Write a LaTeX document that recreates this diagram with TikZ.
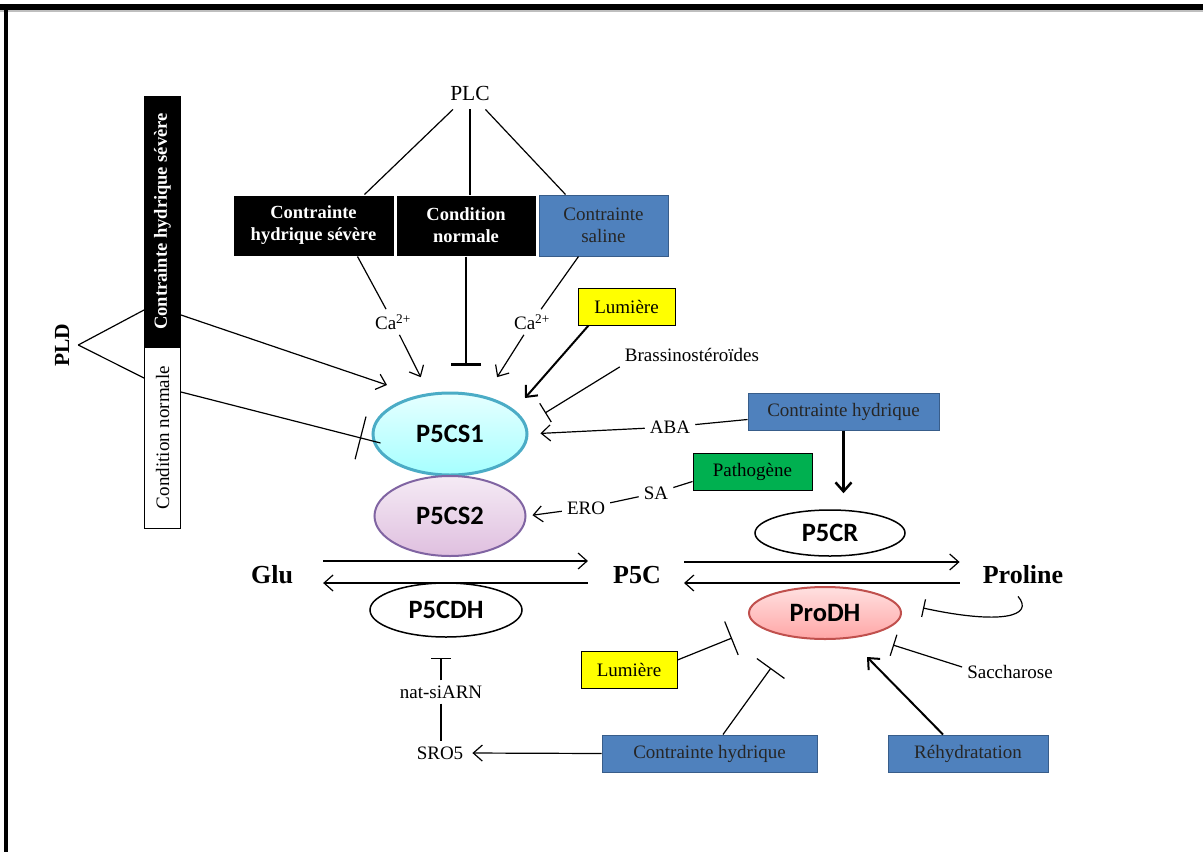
\documentclass[tikz,border=0pt]{standalone}
\usepackage{fontspec}
\setmainfont{Liberation Serif}
\newfontfamily\calib{Carlito}
\usetikzlibrary{shapes.geometric,arrows.meta,calc,decorations.markings}

\definecolor{bleu}{RGB}{79,129,189}
\definecolor{bleufonce}{RGB}{56,93,138}
\definecolor{vert}{RGB}{0,176,80}
\definecolor{jaune}{RGB}{255,255,0}
\definecolor{cyanbord}{RGB}{75,172,198}
\definecolor{violetbord}{RGB}{128,100,162}
\definecolor{rougebord}{RGB}{192,80,77}

\begin{document}
\begin{tikzpicture}[x=1pt,y=-1pt,
    txt/.style={font=\fontsize{19}{22}\selectfont, inner sep=5pt},
    big/.style={font=\fontsize{26}{28}\selectfont\bfseries, inner sep=0pt},
    box/.style={draw, line width=1pt, minimum height=37pt, inner sep=0pt, align=center,
        font=\fontsize{19}{22}\selectfont},
    blk/.style={box, fill=black, draw=white, text=white, font=\fontsize{18.5}{22}\selectfont\bfseries},
    bluebox/.style={box, fill=bleu, draw=bleufonce, text=black!85},
    enz/.style={ellipse, draw, line width=1.5pt, inner sep=0pt, font=\calib\bfseries\fontsize{26.5}{28}\selectfont},
    lnk/.style={line width=1.2pt},
    act/.style={lnk, -{Straight Barb[length=9pt,width=16pt]}},
    inh/.style={lnk, -{Bar[width=22pt]}}]

    \useasboundingbox (0,0) rectangle (1203,852);

    % Cadre
    \fill (0,4) rectangle (1203,10);
    \fill[gray!50] (0,10) rectangle (1203,12);
    \fill (4,4) rectangle (8,852);

    % Conditions en haut
    \node[txt, font=\fontsize{21.5}{24}\selectfont, inner sep=9pt] (plc) at (470,93) {PLC};
    \node[blk, minimum width=161pt, minimum height=61pt] (csev) at (313.5,225.5) {Contrainte\\hydrique sévère};
    \node[blk, minimum width=140pt, minimum height=61pt] (cnor) at (466,225.5) {Condition\\normale};
    \node[bluebox, minimum width=129pt, minimum height=61pt] (csal) at (603.5,225.5) {Contrainte\\saline};

    % Barre verticale PLD
    \node[blk, draw=black, rotate=90, minimum width=251pt, minimum height=36pt] (bsev) at (162.5,221.5) {Contrainte hydrique sévère};
    \node[box, rotate=90, minimum width=181pt, minimum height=36pt] (bnor) at (162.5,437.5) {Condition normale};
    \node[txt, font=\fontsize{21.5}{24}\selectfont\bfseries, rotate=90, inner sep=9pt] (pld) at (62,345) {PLD};

    % Enzymes
    \node[enz, draw=cyanbord, line width=3pt, top color=cyan!10, bottom color=cyan!35,
        minimum width=154pt, minimum height=82pt] (cs1) at (450,434) {P5CS1};
    \node[enz, draw=violetbord, line width=2pt, top color=violet!8, bottom color=violet!25,
        minimum width=151pt, minimum height=80pt] (cs2) at (450,516) {P5CS2};
    \node[enz, fill=white, minimum width=152pt, minimum height=54pt] (p5cdh) at (446,610) {P5CDH};
    \node[enz, fill=white, minimum width=150pt, minimum height=46pt] (p5cr) at (830,533) {P5CR};
    \node[enz, draw=rougebord, line width=2pt, top color=red!12, bottom color=red!35,
        minimum width=152pt, minimum height=52pt] (prodh) at (825,613) {ProDH};

    % Metabolites
    \node[big] (glu) at (272,575) {Glu};
    \node[big] (p5c) at (637,575) {P5C};
    \node[big] (pro) at (1023,575) {Proline};

    % Regulateurs
    \node[txt] (ca1) at (393,322) {Ca\textsuperscript{2+}};
    \node[txt] (ca2) at (532,322) {Ca\textsuperscript{2+}};
    \node[box, fill=jaune, minimum width=97pt] (lum1) at (626.5,306.5) {Lumière};
    \node[txt] (bras) at (692,355) {Brassinostéroïdes};
    \node[bluebox, minimum width=191pt] (ch1) at (843.5,411.5) {Contrainte hydrique};
    \node[txt] (aba) at (670,427) {ABA};
    \node[box, fill=vert, minimum width=119pt] (patho) at (752.5,471.5) {Pathogène};
    \node[txt] (sa) at (656,493) {SA};
    \node[txt] (ero) at (586,508) {ERO};
    \node[txt] (nat) at (441,692) {nat-siARN};
    \node[txt] (sro) at (440,753) {SRO5};
    \node[box, fill=jaune, minimum width=96pt] (lum2) at (629,669.5) {Lumière};
    \node[bluebox, minimum width=215pt] (ch2) at (709.5,753.5) {Contrainte hydrique};
    \node[bluebox, minimum width=160pt] (rehy) at (968,753.5) {Réhydratation};
    \node[txt] (sac) at (1010,672) {Saccharose};

    % PLC
    \draw[lnk] (plc) -- ([xshift=51]csev.north);
    \draw[lnk] (plc) -- (plc |- cnor.north);
    \draw[lnk] (plc) -- ([xshift=-38]csal.north);

    % Vers P5CS1
    \draw[lnk] ([xshift=44]csev.south) -- (ca1);
    \draw[act, shorten >=16pt] (ca1) -- ([xshift=-22]cs1.north);
    \draw[inh, line width=2.5pt, -{Bar[width=30pt]}, shorten >=26pt] (cnor.south) -- (cnor.south |- cs1.north);
    \draw[lnk] ([xshift=-25]csal.south) -- (ca2);
    \draw[act, shorten >=17pt] (ca2) -- ([xshift=38]cs1.north);
    \draw[act, line width=2pt] ([xshift=-38]lum1.south) -- ($(cs1.center)+(75,-36)$);
    \draw[inh] (bras.south west) -- ($(cs1.center)+(95,-21)$);
    \draw[lnk] ([yshift=-8]ch1.west) -- (aba);
    \draw[act, shorten >=12pt] (aba) -- (cs1.east);

    % PLD
    \draw[lnk] (pld.south) -- ($(bsev.center)+(-18.5,88.5)$);
    \draw[lnk] (pld.south) -- ($(bnor.center)+(-18.5,-59.5)$);
    \draw[act] ($(bsev.center)+(18.5,93.5)$) -- ($(cs1.center)+(-63,-49)$);
    \draw[lnk, postaction={decorate}, decoration={markings,
        mark=at position 0.9 with {\draw[line width=1.2pt] (0,-22pt) -- (0,22pt);}}]
        ($(bnor.center)+(18.5,-45.5)$) -- ($(cs1.west)+(9,9)$);

    % Vers P5CS2
    \draw[lnk] ([yshift=-10]patho.west) -- (sa);
    \draw[lnk] (sa) -- (ero);
    \draw[act, shorten >=6pt] (ero) -- (cs2.east);

    % Voie Glu - P5C - Proline
    \draw[act] ([xshift=30,yshift=14]glu.east) -- ([xshift=-25,yshift=14]p5c.west);
    \draw[act] ([xshift=-25,yshift=-8]p5c.west) -- ([xshift=30,yshift=-8]glu.east);
    \draw[act] ([xshift=23,yshift=13]p5c.east) -- ([xshift=-23,yshift=13]pro.west);
    \draw[act] ([xshift=-23,yshift=-8]pro.west) -- ([xshift=23,yshift=-8]p5c.east);
    \draw[act, line width=2.5pt, shorten >=16pt] (ch1.south) -- (ch1.south |- p5cr.north);

    % Regulation de P5CDH
    \draw[inh, -{Bar[width=20pt]}, shorten >=20pt] (nat.north) -- (nat.north |- p5cdh.south);
    \draw[lnk] (nat.south) -- (nat.south |- sro.north);
    \draw[act, shorten >=4pt] (ch2.west) -- (sro.east);

    % Regulation de ProDH
    \draw[inh, -{Bar[width=18pt]}] ([xshift=-5,yshift=-12]pro.south)
        .. controls +(17,20) and +(78,17) .. ([xshift=21,yshift=5]prodh.east);
    \draw[inh, -{Bar[width=36pt]}] ([yshift=9.5]lum2.east) -- ($(prodh.center)+(-93,25)$);
    \draw[inh, -{Bar[width=34pt]}] ([xshift=13.5]ch2.north) -- ($(prodh.center)+(-54,55)$);
    \draw[act, line width=2pt] ([xshift=-25]rehy.north) -- ($(prodh.center)+(42,44)$);
    \draw[inh] ([yshift=5]sac.west) -- ($(prodh.center)+(68,32)$);
\end{tikzpicture}
\end{document}
